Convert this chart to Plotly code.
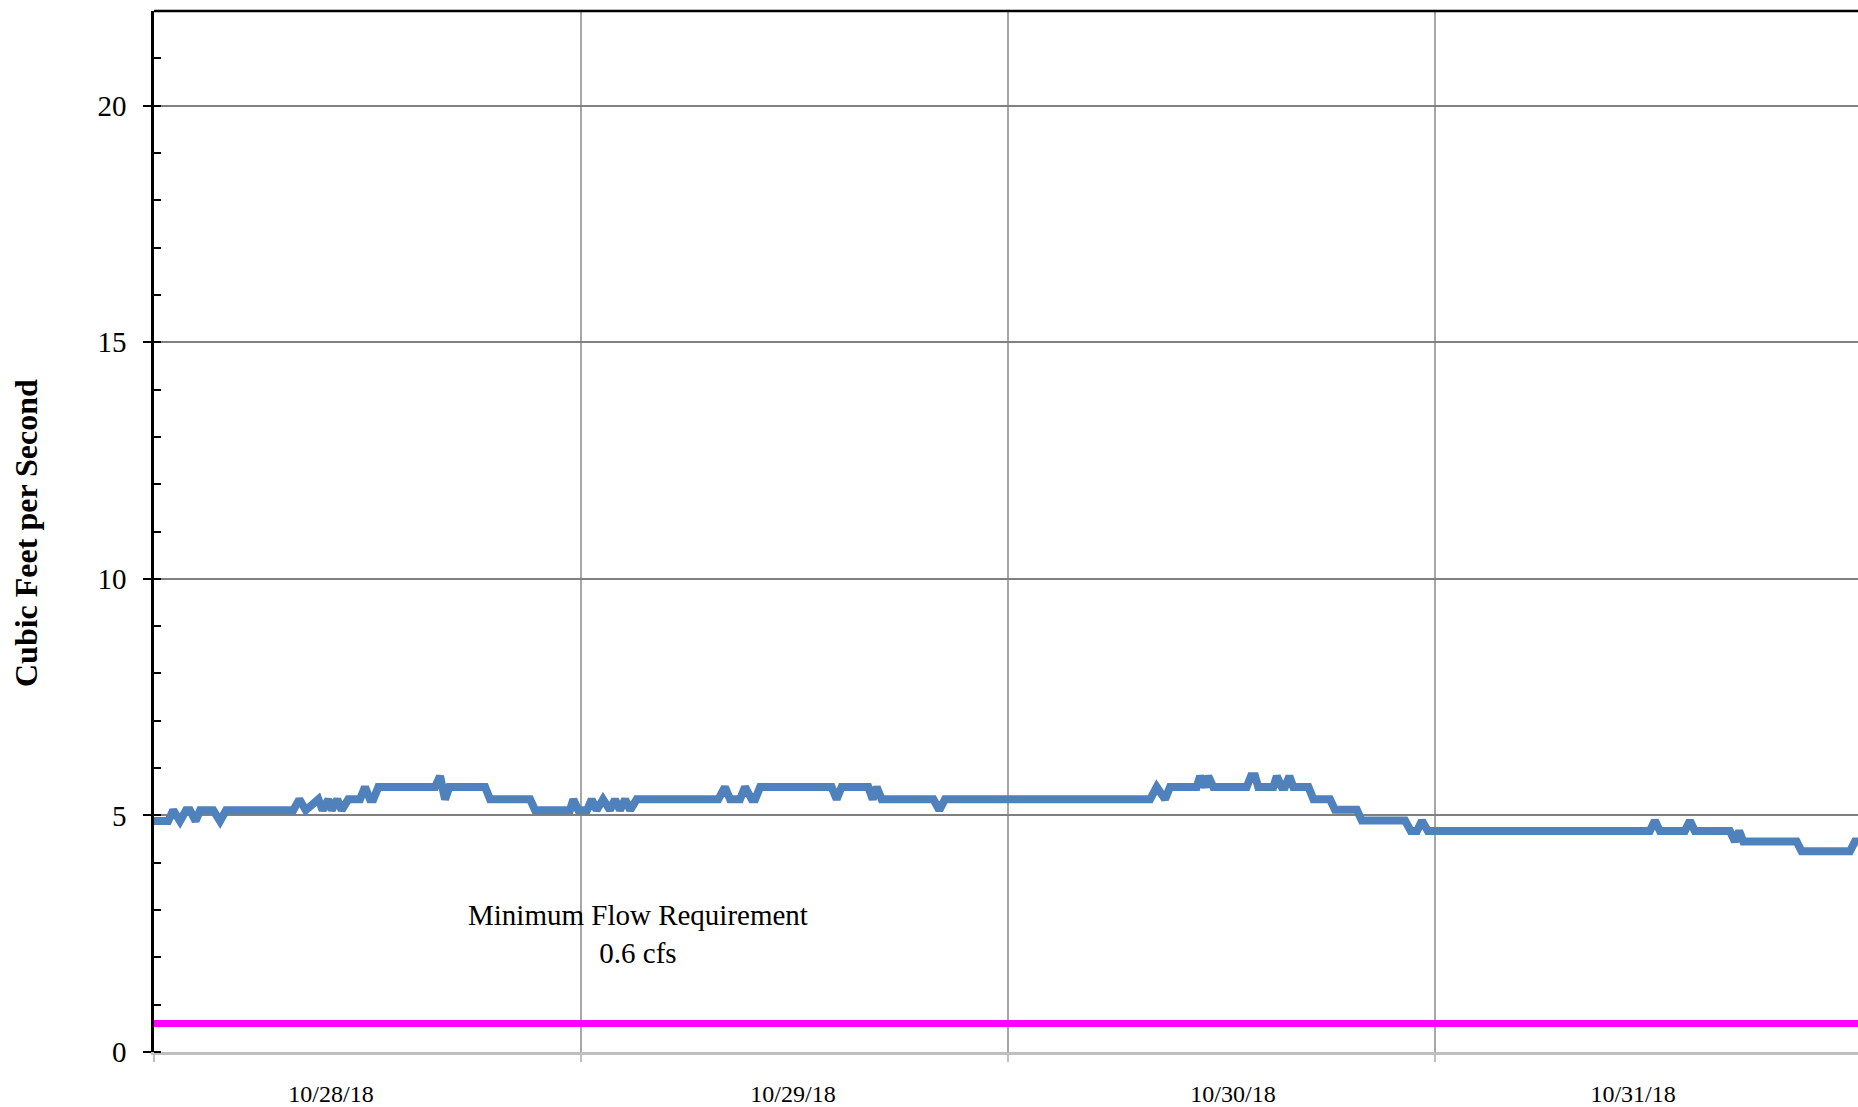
import pandas as pd
import plotly.graph_objects as go

# ---- data (hours after 10/28/18 00:00, flow in cfs) ----
hours = [0.00, 0.80, 1.08, 1.46, 1.80, 2.02, 2.34, 2.59, 3.33, 3.71, 4.05,
         7.83, 8.17, 8.53, 9.24, 9.48, 9.80, 9.99, 10.30, 10.55, 10.92,
         11.58, 11.86, 12.14, 12.33, 12.61, 15.80, 16.08, 16.36, 16.60,
         18.61, 18.89, 21.14, 21.42, 23.38, 23.57, 23.85, 24.34, 24.60,
         24.88, 25.24, 25.63, 25.91, 26.19, 26.48, 26.76, 27.13, 31.72,
         32.09, 32.38, 32.94, 33.22, 33.60, 33.79, 34.07, 38.09, 38.37,
         38.65, 40.15, 40.40, 40.62, 40.90, 43.81, 44.14, 44.46, 55.99,
         56.36, 56.83, 57.11, 58.61, 58.80, 59.08, 59.26, 59.54, 61.42,
         61.66, 61.89, 62.07, 62.92, 63.11, 63.39, 63.57, 63.82, 64.04,
         64.89, 65.17, 66.10, 66.38, 67.61, 67.89, 70.32, 70.64, 70.99,
         71.27, 71.60, 84.08, 84.36, 84.65, 86.05, 86.33, 86.61, 88.58,
         88.86, 89.10, 89.33, 92.33, 92.61, 95.33, 95.61, 96.00]
flow = [4.88, 4.88, 5.11, 4.88, 5.11, 5.11, 4.88, 5.11, 5.11, 4.88, 5.11,
        5.11, 5.34, 5.11, 5.34, 5.11, 5.34, 5.11, 5.34, 5.11, 5.34,
        5.34, 5.60, 5.34, 5.34, 5.60, 5.60, 5.83, 5.34, 5.60,
        5.60, 5.34, 5.34, 5.11, 5.11, 5.34, 5.11, 5.11, 5.34,
        5.11, 5.34, 5.11, 5.34, 5.11, 5.34, 5.11, 5.34, 5.34,
        5.60, 5.34, 5.34, 5.60, 5.34, 5.34, 5.60, 5.60, 5.34,
        5.60, 5.60, 5.34, 5.60, 5.34, 5.34, 5.11, 5.34, 5.34,
        5.60, 5.34, 5.60, 5.60, 5.83, 5.60, 5.83, 5.60, 5.60,
        5.83, 5.83, 5.60, 5.60, 5.83, 5.60, 5.60, 5.83, 5.60,
        5.60, 5.34, 5.34, 5.12, 5.12, 4.89, 4.89, 4.67, 4.67,
        4.89, 4.67, 4.67, 4.89, 4.67, 4.67, 4.89, 4.67, 4.67,
        4.45, 4.67, 4.45, 4.45, 4.24, 4.24, 4.45, 4.45]

min_flow = 0.6
min_flow_label = "Minimum Flow Requirement<br>0.6 cfs"

date_labels = ["10/28/18", "10/29/18", "10/30/18", "10/31/18"]
label_hours = [9.95, 35.92, 60.65, 83.14]   # where the labels sit
noon_hours = [12, 36, 60, 84]                # small date tick marks
day_hours = [0, 24, 48, 72, 96]              # day boundaries (gridlines)
x_range_hours = [0, 95.78]

y_title = "Cubic Feet per Second"

# ---- helpers ----
base = pd.Timestamp("2018-10-28 00:00")
def to_dt(h):
    return base + pd.to_timedelta(h, unit="h")

x = [to_dt(h) for h in hours]
xr = [to_dt(h) for h in x_range_hours]

SERIF = "Liberation Serif, Times New Roman, serif"

fig = go.Figure()
fig.add_trace(go.Scatter(
    x=x, y=flow, mode="lines",
    line=dict(color="#4F81BD", width=8),
    hoverinfo="skip", showlegend=False))
fig.add_trace(go.Scatter(
    x=xr, y=[min_flow, min_flow], mode="lines",
    line=dict(color="#FF00FF", width=7),
    hoverinfo="skip", showlegend=False))

fig.update_layout(
    width=1858, height=1107,
    margin=dict(l=154, r=0, t=11, b=55),
    paper_bgcolor="white", plot_bgcolor="white",
    font=dict(family=SERIF, color="black"),
    showlegend=False,
    xaxis=dict(
        type="date", range=xr, automargin=False,
        tickmode="array",
        tickvals=[to_dt(h) for h in label_hours],
        ticktext=date_labels,
        ticks="", showgrid=False, zeroline=False,
        showline=True, linecolor="#BFBFBF", linewidth=2.5,
        tickfont=dict(family=SERIF, size=24, color="black"),
        ticklabelstandoff=18,
        minor=dict(tickmode="array",
                   tickvals=[to_dt(h) for h in day_hours],
                   ticks="outside", ticklen=7, tickwidth=1.5,
                   tickcolor="#BFBFBF",
                   showgrid=True, gridcolor="#A6A6A6", gridwidth=2),
    ),
    xaxis2=dict(
        type="date", range=xr, overlaying="x", anchor="y", side="bottom",
        automargin=False,
        tickmode="array", tickvals=[to_dt(h) for h in noon_hours],
        ticks="inside", ticklen=4, tickwidth=1.5, tickcolor="#BFBFBF",
        showticklabels=False, showgrid=False, showline=False, zeroline=False,
    ),
    yaxis=dict(
        range=[0, 22], automargin=False,
        tickmode="array", tickvals=[0, 5, 10, 15, 20],
        ticks="outside", ticklen=8, tickwidth=2, tickcolor="black",
        showgrid=True, gridcolor="#808080", gridwidth=1.5,
        zeroline=False,
        showline=True, linecolor="black", linewidth=2.5,
        tickfont=dict(family=SERIF, size=29, color="black"),
        ticklabelstandoff=11,
        minor=dict(dtick=1, tick0=0, ticks="inside", ticklen=7,
                   tickwidth=2, tickcolor="black", showgrid=False),
    ),
    shapes=[dict(type="line", xref="paper", yref="paper",
                 x0=0, x1=1, y0=1, y1=1,
                 line=dict(color="black", width=2.5))],
    annotations=[
        dict(text=min_flow_label, x=to_dt(27.2), y=2.5,
             xref="x", yref="y", showarrow=False,
             xanchor="center", yanchor="middle", align="center",
             font=dict(family=SERIF, size=29, color="black")),
        dict(text="<b>" + y_title + "</b>", textangle=-90,
             x=-0.0751, y=0.4986, xref="paper", yref="paper",
             showarrow=False, xanchor="center", yanchor="middle",
             font=dict(family=SERIF, size=32, color="black")),
    ],
)

fig.write_html(
    "out.html",
    config={"displayModeBar": False},
    post_script="document.body.style.margin='0px';"
                "document.body.style.overflow='hidden';",
)
